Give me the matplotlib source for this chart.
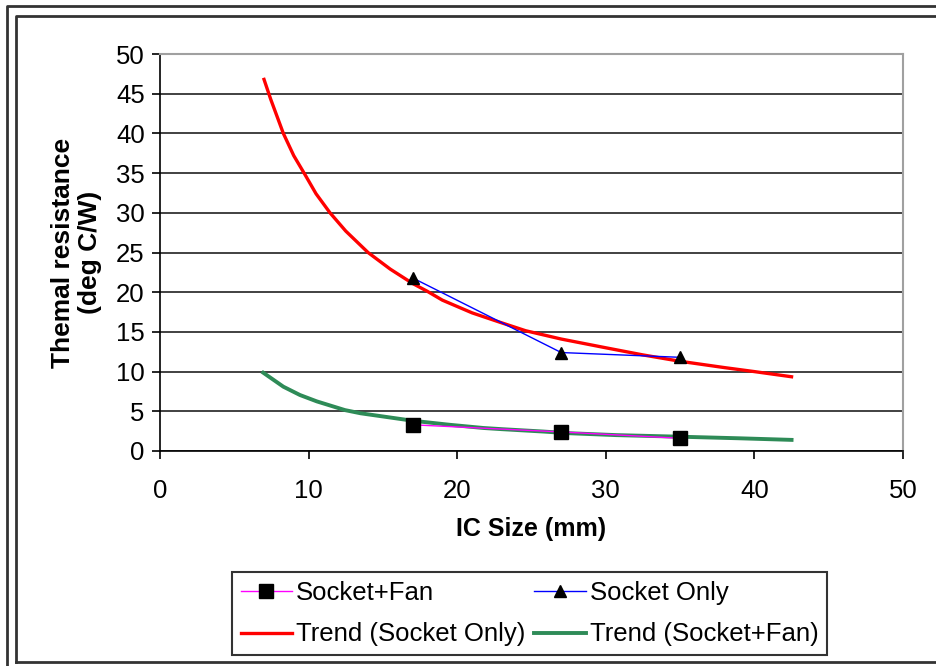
import matplotlib
matplotlib.use("Agg")
from matplotlib import pyplot as plt
from matplotlib.lines import Line2D

plt.rcParams['font.family'] = ['Liberation Sans', 'DejaVu Sans']

# measured points
ic_size = [17, 27, 35]
socket_only = [21.8, 12.4, 11.8]
socket_fan = [3.3, 2.4, 1.6]

# trend curves
trend_only_x = [7, 7.45, 8.3, 9, 9.76, 10.5, 11.44, 12.5, 14, 15.5, 17, 18,
                19, 21, 22.9, 24.6, 27, 30, 32.5, 35, 38, 40, 42.5]
trend_only_y = [46.8, 44.3, 40.0, 37.2, 34.8, 32.4, 30.0, 27.7, 25.0, 22.9,
                21.1, 20.1, 19.0, 17.4, 16.2, 15.15, 14.1, 13.0, 12.1, 11.3,
                10.5, 10.0, 9.35]
trend_fan_x = [6.95, 8.3, 9.42, 10.55, 12.45, 13.5, 15, 17.05, 19.5, 21.75, 23,
               25.8, 27.4, 30.7, 35, 39, 42.5]
trend_fan_y = [9.86, 8.1, 7.05, 6.25, 5.15, 4.75, 4.35, 3.8, 3.3, 2.9, 2.75,
               2.45, 2.25, 2.0, 1.8, 1.6, 1.4]

W, H = 937, 666
fig = plt.figure(figsize=(W / 100, H / 100), dpi=100)
ax = fig.add_axes([160 / W, 1 - 451 / H, (903 - 160) / W, (451 - 54) / H])

# double frame around the chart
def px_line(xs, ys, **kw):
    fig.add_artist(Line2D([x / W for x in xs], [1 - y / H for y in ys],
                          transform=fig.transFigure, **kw))

px_line([7, 7, 940], [670, 6, 6], color="#333333", lw=2)
px_line([16, 16, 940], [662, 16, 16], color="#333333", lw=2)
px_line([16, 940], [662, 662], color="#333333", lw=2)

sf, = ax.plot(ic_size, socket_fan, color="#ff00ff", lw=1, marker="s",
              markersize=10, markerfacecolor="black", markeredgecolor="black",
              label="Socket+Fan", zorder=4)
so, = ax.plot(ic_size, socket_only, color="#0000ff", lw=1, marker="^",
              markersize=8, markerfacecolor="black", markeredgecolor="black",
              label="Socket Only", zorder=4)
tso, = ax.plot(trend_only_x, trend_only_y, color="#ff0000", lw=2.4,
               label="Trend (Socket Only)", zorder=3)
tsf, = ax.plot(trend_fan_x, trend_fan_y, color="#2e8b57", lw=2.8,
               label="Trend (Socket+Fan)", zorder=3)

ax.set_xlim(0, 50)
ax.set_ylim(0, 50)
ax.set_xticks(range(0, 51, 10))
ax.set_yticks(range(0, 51, 5))
ax.yaxis.grid(True, color="#333333", lw=1.3)
ax.set_axisbelow(True)
ax.tick_params(direction="out", length=6, width=1.2, labelsize=18.5)
ax.tick_params(axis="x", pad=14)
ax.tick_params(axis="y", pad=5)

for side in ("top", "right"):
    ax.spines[side].set_color("#a0a0a0")
    ax.spines[side].set_linewidth(1.5)
for side in ("left", "bottom"):
    ax.spines[side].set_color("black")
    ax.spines[side].set_linewidth(1.2)

ax.set_xlabel("IC Size (mm)", fontsize=18, fontweight="bold", labelpad=10)
ax.set_ylabel("Themal resistance\n(deg C/W)", fontsize=19, fontweight="bold",
              labelpad=10, linespacing=1.15)

leg = fig.legend([sf, tso, so, tsf],
                 ["Socket+Fan", "Trend (Socket Only)", "Socket Only",
                  "Trend (Socket+Fan)"],
                 ncol=2, loc="center",
                 bbox_to_anchor=((232 + 827) / 2 / W, 1 - (572 + 655) / 2 / H),
                 bbox_transform=fig.transFigure, fontsize=18.5, frameon=True,
                 fancybox=False, edgecolor="black", handlelength=2.0,
                 handletextpad=0.15, columnspacing=0.35, labelspacing=0.7,
                 borderpad=0.35, borderaxespad=0)
leg.get_frame().set_linewidth(1.5)

fig.savefig("out.png", dpi=100)
